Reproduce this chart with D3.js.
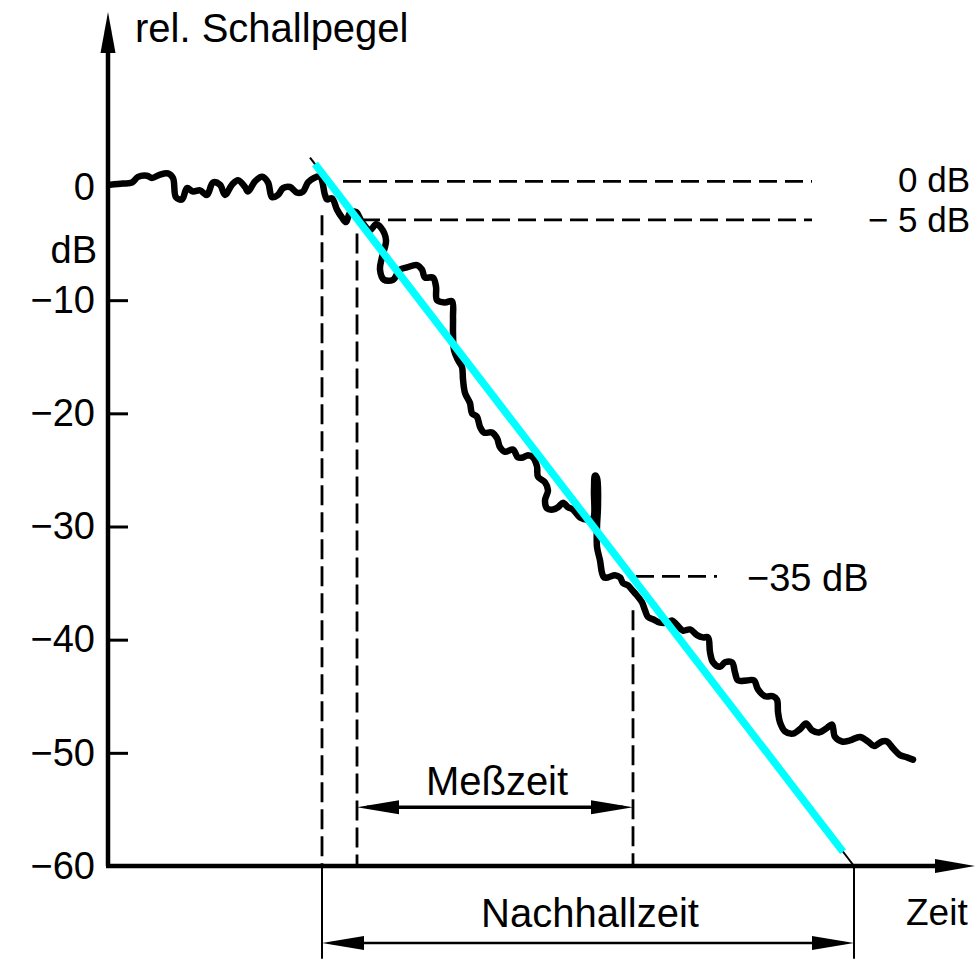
<!DOCTYPE html>
<html>
<head>
<meta charset="utf-8">
<script src="https://cdn.jsdelivr.net/npm/d3@7"></script>
<style>
  html, body { margin: 0; padding: 0; background: #fff; }
  svg text { font-family: "Liberation Sans", Arial, Helvetica, sans-serif; fill: #000; }
</style>
</head>
<body>
<svg width="978" height="961"></svg>
<script>
// decay of the sound level: time (arbitrary units) and level (dB)
var decayTime = [2,15,24,30,39,44,52,60,65,68,74,79,85,92,99,105,112,117,124,130,
  137,140,147,154,160,164,170,175,182,189,195,200,206,212,217,219,224,229,234,238,
  242,248,254,262,268,273,278,274,272,276,285,292,299,309,314,317,325,328,329,337,
  344,345,345,346,350,354,355,357,362,364,369,372,376,384,389,392,397,405,410,415,
  420,425,429,430,437,440,437,439,445,450,455,460,465,472,480,485,486,487,489,490,
  489,489,492,494,496,500,507,512,515,520,524,527,530,534,537,540,545,552,559,564,
  569,575,582,589,595,600,602,605,612,617,624,627,630,639,646,650,657,665,669,670,
  672,677,685,692,698,704,711,719,724,727,734,742,752,760,766,774,779,785,792,799,805];
var decayLevel = [0.2,0.3,0.4,0.9,1.0,0.8,1.1,1.2,0.8,-0.9,-1.1,-0.1,-0.4,-0.3,-0.7,0.4,0.2,-0.7,0.2,0.6,
  0.0,-0.4,0.5,0.9,0.4,-0.9,-0.7,-0.1,0.0,-0.5,-0.4,0.4,0.8,0.9,-0.7,-1.1,-1.0,-2.0,-2.7,-3.1,
  -2.3,-2.2,-3.1,-3.8,-3.3,-3.6,-4.7,-6.2,-7.3,-8.2,-8.2,-7.3,-7.1,-6.9,-7.3,-8.0,-8.0,-8.8,-10.0,-10.2,
  -10.1,-11.5,-12.9,-14.4,-15.3,-15.9,-17.0,-18.2,-19.1,-20.0,-20.3,-21.2,-21.7,-21.7,-22.2,-23.0,-23.4,-23.2,-23.9,-23.9,
  -23.7,-23.9,-24.7,-25.6,-26.1,-26.8,-27.7,-28.4,-28.5,-28.3,-27.9,-28.3,-28.5,-29.2,-29.4,-29.3,-26.8,-25.5,-25.7,-28.1,
  -30.0,-31.8,-33.0,-34.1,-34.5,-34.5,-34.3,-34.5,-35.0,-35.2,-35.6,-35.9,-36.2,-36.7,-37.4,-38.0,-38.2,-38.5,-38.5,-38.3,
  -38.7,-39.2,-39.1,-39.6,-39.8,-39.8,-41.1,-42.0,-42.4,-42.0,-42.0,-42.9,-43.6,-43.6,-43.6,-44.4,-45.0,-45.0,-45.3,-46.4,
  -47.3,-48.1,-48.3,-47.9,-47.4,-48.0,-48.2,-47.8,-47.5,-48.6,-49.0,-48.9,-48.6,-49.0,-49.4,-49.0,-49.0,-49.6,-50.2,-50.4,-50.6];

// y axis ticks
var tickLevels = [0, -10, -20, -30, -40, -50, -60];
var tickLabels = ["0", "\u221210", "\u221220", "\u221230", "\u221240", "\u221250", "\u221260"];

// straight fit line (thin black) and the highlighted part of it
var fitTime = [202, 746];
var fitLevel = [2.6, -60];
var highlightTime = [207, 735];

// horizontal reference levels
var refLevel = [0.5, -2.9, -34.4];
var refStart = [235, 254, 528];
var refEnd = [704, 704, 609];
var refLabels = ["0 dB", "\u2212 5 dB", "\u221235 dB"];

// vertical markers: start of decay, -5 dB crossing, -35 dB crossing, end of fit
var markTime = [214, 249, 525, 746];
var markTop = [-2.5, -4.1, -37.4, -60];

var svg = d3.select("svg");

var x = d3.scaleLinear().domain([0, 867]).range([108, 975]);
var y = d3.scaleLinear().domain([-60, 0]).range([866, 187]);

// --- dashed reference lines
refLevel.forEach(function(lv, i) {
    svg.append("line")
        .attr("x1", x(refStart[i])).attr("x2", x(refEnd[i]))
        .attr("y1", y(lv)).attr("y2", y(lv))
        .attr("stroke", "#000").attr("stroke-width", 2.8)
        .attr("stroke-dasharray", "18,8");
});

svg.append("text").attr("x", 970).attr("y", y(refLevel[0])).attr("dy", "0.3em")
    .attr("text-anchor", "end").attr("font-size", 35).text(refLabels[0]);
svg.append("text").attr("x", 970).attr("y", y(refLevel[1])).attr("dy", "0.35em")
    .attr("text-anchor", "end").attr("font-size", 35).text(refLabels[1]);
svg.append("text").attr("x", 747).attr("y", y(refLevel[2])).attr("dy", "0.4em")
    .attr("font-size", 38).text(refLabels[2]);

// --- dashed verticals down to the time axis
for (var i = 0; i < 3; i++) {
    svg.append("line")
        .attr("x1", x(markTime[i])).attr("x2", x(markTime[i]))
        .attr("y1", y(markTop[i])).attr("y2", y(-60))
        .attr("stroke", "#000").attr("stroke-width", 2.8)
        .attr("stroke-dasharray", "20,7");
}

// solid bracket lines under the axis for Nachhallzeit
[markTime[0], markTime[3]].forEach(function(t) {
    svg.append("line")
        .attr("x1", x(t)).attr("x2", x(t))
        .attr("y1", y(-60)).attr("y2", y(-68.2))
        .attr("stroke", "#000").attr("stroke-width", 2);
});

// --- decay curve
var pts = decayTime.map(function(t, i) { return [t, decayLevel[i]]; });
var line = d3.line()
    .x(function(d) { return x(d[0]); })
    .y(function(d) { return y(d[1]); })
    .curve(d3.curveCatmullRom.alpha(0.5));

svg.append("path")
    .attr("d", line(pts))
    .attr("fill", "none")
    .attr("stroke", "#000")
    .attr("stroke-width", 6.5)
    .attr("stroke-linejoin", "round")
    .attr("stroke-linecap", "round");

// --- fit line
function fitAt(t) {
    return fitLevel[0] + (fitLevel[1] - fitLevel[0]) * (t - fitTime[0]) / (fitTime[1] - fitTime[0]);
}
svg.append("line")
    .attr("x1", x(fitTime[0])).attr("y1", y(fitLevel[0]))
    .attr("x2", x(fitTime[1])).attr("y2", y(fitLevel[1]))
    .attr("stroke", "#000").attr("stroke-width", 2);
svg.append("line")
    .attr("x1", x(highlightTime[0])).attr("y1", y(fitAt(highlightTime[0])))
    .attr("x2", x(highlightTime[1])).attr("y2", y(fitAt(highlightTime[1])))
    .attr("stroke", "#00ffff").attr("stroke-width", 7.5);

// --- axes
var yAxis = d3.axisLeft(y)
    .tickValues(tickLevels)
    .tickFormat(function(d, i) { return tickLabels[i]; })
    .tickSizeInner(-20)
    .tickSizeOuter(0)
    .tickPadding(13);

var gy = svg.append("g").attr("transform", "translate(108,0)").call(yAxis);
gy.select(".domain").remove();
gy.selectAll(".tick line").attr("stroke", "#000").attr("stroke-width", 3)
    .filter(function(d) { return d === 0 || d === -60; }).remove();
gy.selectAll(".tick text")
    .attr("font-size", 38)
    .attr("font-family", "Liberation Sans, Arial, sans-serif")
    .attr("fill", "#000");

svg.append("text").attr("x", 97).attr("y", y(-5.5)).attr("dy", "0.36em")
    .attr("text-anchor", "end").attr("font-size", 38).text("dB");

// axis lines with arrows
svg.append("line").attr("x1", 108).attr("y1", y(-60)).attr("x2", 108).attr("y2", 40)
    .attr("stroke", "#000").attr("stroke-width", 4.5);
svg.append("path").attr("d", "M108,12 L100.5,53 L115.5,53 Z").attr("fill", "#000");

svg.append("line").attr("x1", 106).attr("y1", y(-60)).attr("x2", 950).attr("y2", y(-60))
    .attr("stroke", "#000").attr("stroke-width", 4.5);
svg.append("path")
    .attr("d", "M975," + y(-60) + " L935," + (y(-60) - 7) + " L935," + (y(-60) + 7) + " Z")
    .attr("fill", "#000");

svg.append("text").attr("x", 135).attr("y", 42).attr("font-size", 40).text("rel. Schallpegel");
svg.append("text").attr("x", 906).attr("y", 925).attr("font-size", 37).text("Zeit");

// --- double arrows for the two time spans
function spanArrow(t1, t2, level, w, label, lift) {
    var x1 = x(t1), x2 = x(t2), yy = y(level);
    svg.append("line").attr("x1", x1 + 10).attr("x2", x2 - 10).attr("y1", yy).attr("y2", yy)
        .attr("stroke", "#000").attr("stroke-width", w);
    svg.append("path")
        .attr("d", "M" + x1 + "," + yy + " L" + (x1 + 42) + "," + (yy - 7) + " L" + (x1 + 42) + "," + (yy + 7) + " Z")
        .attr("fill", "#000");
    svg.append("path")
        .attr("d", "M" + x2 + "," + yy + " L" + (x2 - 42) + "," + (yy - 7) + " L" + (x2 - 42) + "," + (yy + 7) + " Z")
        .attr("fill", "#000");
    svg.append("text").attr("x", (x1 + x2) / 2 + 2).attr("y", yy - lift)
        .attr("text-anchor", "middle").attr("font-size", 40).text(label);
}

spanArrow(markTime[1], markTime[2], -54.8, 3.5, "Me\u00dfzeit", 12);
spanArrow(markTime[0], markTime[3], -66.8, 2.5, "Nachhallzeit", 16);
</script>
</body>
</html>
